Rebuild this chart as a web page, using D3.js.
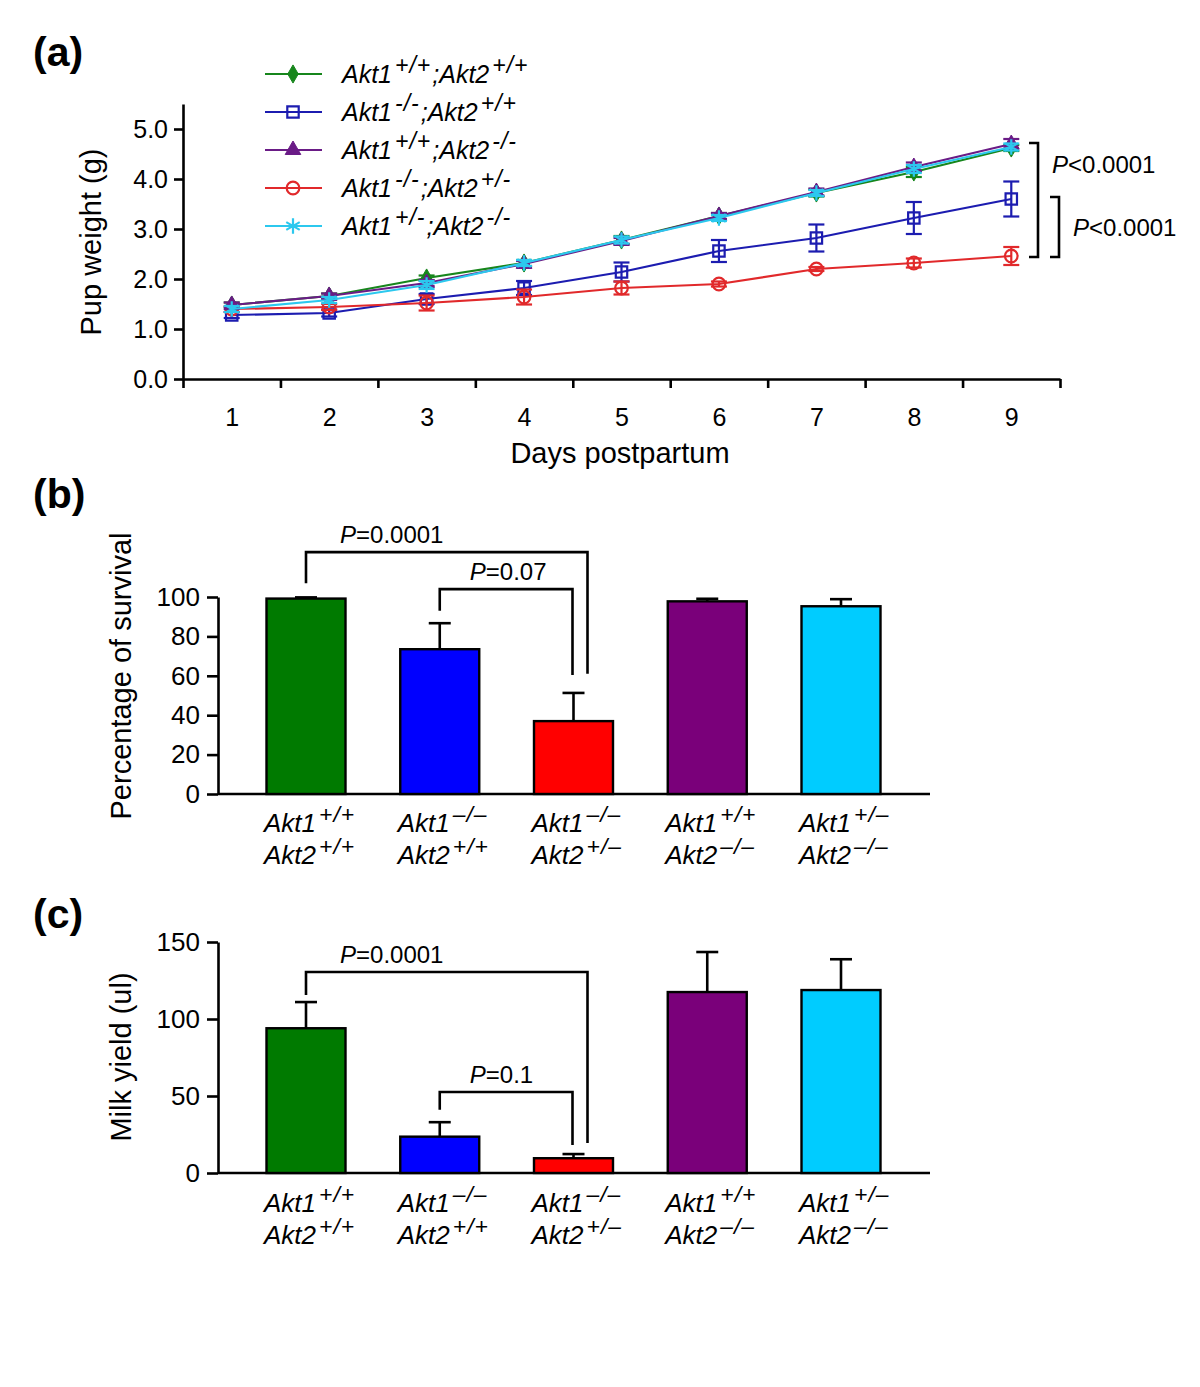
<!DOCTYPE html>
<html><head><meta charset="utf-8">
<script src="https://cdn.jsdelivr.net/npm/d3@7/dist/d3.min.js"></script>
<style>
html,body{margin:0;padding:0;background:#fff;}
text{font-family:"Liberation Sans",Arial,sans-serif;fill:#000;}
</style></head>
<body>
<svg id="chart" width="1200" height="1387"></svg>
<script>
// ---------- DATA ----------
const days = [1, 2, 3, 4, 5, 6, 7, 8, 9];
const yTicksA = [0, 1, 2, 3, 4, 5];
const seriesNames = ["Akt1{+/+};Akt2{+/+}", "Akt1{-/-};Akt2{+/+}", "Akt1{+/+};Akt2{-/-}", "Akt1{-/-};Akt2{+/-}", "Akt1{+/-};Akt2{-/-}"];
const wtWeight      = [1.48, 1.66, 2.02, 2.32, 2.78, 3.26, 3.72, 4.14, 4.62];
const wtErr         = [0.05, 0.05, 0.05, 0.06, 0.08, 0.06, 0.07, 0.10, 0.06];
const akt1KoWeight  = [1.28, 1.32, 1.60, 1.82, 2.14, 2.56, 2.82, 3.22, 3.60];
const akt1KoErr     = [0.06, 0.07, 0.10, 0.14, 0.19, 0.22, 0.27, 0.32, 0.35];
const akt2KoWeight  = [1.48, 1.66, 1.92, 2.30, 2.76, 3.26, 3.74, 4.24, 4.70];
const akt2KoErr     = [0.05, 0.05, 0.06, 0.06, 0.06, 0.06, 0.07, 0.09, 0.10];
const dkHetWeight   = [1.40, 1.44, 1.52, 1.64, 1.82, 1.90, 2.20, 2.32, 2.46];
const dkHetErr      = [0.06, 0.06, 0.15, 0.15, 0.13, 0.05, 0.04, 0.09, 0.18];
const hetKoWeight   = [1.40, 1.58, 1.88, 2.32, 2.78, 3.22, 3.72, 4.20, 4.64];
const hetKoErr      = [0.06, 0.06, 0.08, 0.06, 0.07, 0.06, 0.06, 0.08, 0.07];
const pBracketsA = [{top: 4.72, bottom: 2.44, label: "<0.0001"}, {top: 3.64, bottom: 2.44, label: "<0.0001"}];

const categories = ["Akt1{+/+}|Akt2{+/+}", "Akt1{–/–}|Akt2{+/+}", "Akt1{–/–}|Akt2{+/–}", "Akt1{+/+}|Akt2{–/–}", "Akt1{+/–}|Akt2{–/–}"];
const survival    = [99.2, 73.5, 37.0, 97.8, 95.3];
const survivalErr = [0.6, 13.2, 14.3, 1.3, 3.6];
const yTicksB = [0, 20, 40, 60, 80, 100];
const milkYield    = [94, 23.6, 9.6, 117.5, 118.8];
const milkYieldErr = [17, 9.4, 2.7, 26, 20];
const yTicksC = [0, 50, 100, 150];
const pBracketsB = [
  {from: 0, to: 2, top: 122.8, leftEnd: 107, rightEnd: 61, label: "=0.0001"},
  {from: 1, to: 2, top: 104, leftEnd: 93, rightEnd: 60.4, label: "=0.07"}];
const pBracketsC = [
  {from: 0, to: 2, top: 130.5, leftEnd: 115.6, rightEnd: 19.5, label: "=0.0001"},
  {from: 1, to: 2, top: 52.6, leftEnd: 41, rightEnd: 18.2, label: "=0.1"}];

// ---------- STYLE ----------
const lineColors = ["#17861c", "#1c1cb0", "#6a1b86", "#e1292b", "#2cc8ee"];
const barColors  = ["#007a00", "#0000ff", "#ff0000", "#7a007a", "#00ccff"];
const symbols = [
  {type: d3.symbolDiamond, size: 95, fill: true},
  {type: d3.symbolSquare, size: 130, fill: false},
  {type: d3.symbolTriangle, size: 105, fill: true},
  {type: d3.symbolCircle, size: 125, fill: false},
  {type: d3.symbolAsterisk, size: 170, fill: false}];

const svg = d3.select("#chart");

function rich(textSel, str, fs, supScale) {
  const re = /([^{]+)|\{([^}]*)\}/g;
  let m, prevSup = false;
  const shift = fs * 0.4;
  while ((m = re.exec(str)) !== null) {
    if (m[1] !== undefined) {
      const t = textSel.append("tspan").text(m[1]);
      if (prevSup) t.attr("dy", shift).attr("dx", 1);
      prevSup = false;
    } else {
      textSel.append("tspan").attr("font-size", fs * supScale).attr("letter-spacing", 1)
        .attr("dx", 3).attr("dy", -shift).text(m[2]);
      prevSup = true;
    }
  }
}

function styleAxis(g) {
  g.selectAll("path.domain").attr("stroke", "#000").attr("stroke-width", 2.6);
  g.selectAll(".tick line").attr("stroke", "#000").attr("stroke-width", 2.6);
  g.selectAll(".tick text").attr("fill", "#000").style("font-family", "Liberation Sans, Arial, sans-serif");
}

// ---------- PANEL LABELS ----------
[["(a)", 33, 66], ["(b)", 33, 508], ["(c)", 33, 928]].forEach(([t, x, y]) =>
  svg.append("text").attr("x", x).attr("y", y).attr("font-size", 41).attr("font-weight", "bold").text(t));

// ---------- PANEL A ----------
const xa = d3.scaleLinear().domain([0.5, 9.5]).range([183, 1060]);
const ya = d3.scaleLinear().domain([0, 5.5]).range([379, 104]);
const gA = svg.append("g");

const yAxA = gA.append("g").attr("transform", `translate(${xa(0.5)},0)`)
  .call(d3.axisLeft(ya).tickValues(yTicksA).tickFormat(d3.format(".1f")).tickSize(9).tickSizeOuter(0).tickPadding(6));
yAxA.selectAll(".tick text").attr("font-size", 25);
styleAxis(yAxA);
const xAxA = gA.append("g").attr("transform", `translate(0,${ya(0)})`)
  .call(d3.axisBottom(xa).tickValues(d3.range(0.5, 10, 1)).tickFormat("").tickSize(9).tickSizeOuter(0));
styleAxis(xAxA);
const xLabA = gA.append("g").attr("transform", `translate(0,${ya(0)})`)
  .call(d3.axisBottom(xa).tickValues(days).tickSize(0).tickPadding(29));
xLabA.select("path.domain").remove();
xLabA.selectAll(".tick text").attr("font-size", 25);
styleAxis(xLabA);

gA.append("text").attr("x", 620).attr("y", 463).attr("text-anchor", "middle").attr("font-size", 29).text("Days postpartum");
gA.append("text").attr("transform", "translate(101,242) rotate(-90)").attr("text-anchor", "middle").attr("font-size", 29).text("Pup weight (g)");

const seriesVals = [wtWeight, akt1KoWeight, akt2KoWeight, dkHetWeight, hetKoWeight];
const seriesErrs = [wtErr, akt1KoErr, akt2KoErr, dkHetErr, hetKoErr];
const order = [1, 3, 0, 2, 4];
const line = d3.line().x((d, i) => xa(days[i])).y(d => ya(d));
order.forEach(s => {
  const g = gA.append("g");
  const c = lineColors[s];
  g.append("path").datum(seriesVals[s]).attr("d", line).attr("fill", "none").attr("stroke", c).attr("stroke-width", 2.2);
  const eb = g.selectAll("g.eb").data(seriesVals[s]).join("g");
  eb.append("line").attr("x1", (d, i) => xa(days[i])).attr("x2", (d, i) => xa(days[i]))
    .attr("y1", (d, i) => ya(d - seriesErrs[s][i])).attr("y2", (d, i) => ya(d + seriesErrs[s][i]))
    .attr("stroke", c).attr("stroke-width", 2.2);
  [-1, 1].forEach(sg => eb.append("line").attr("x1", (d, i) => xa(days[i]) - 8).attr("x2", (d, i) => xa(days[i]) + 8)
    .attr("y1", (d, i) => ya(d + sg * seriesErrs[s][i])).attr("y2", (d, i) => ya(d + sg * seriesErrs[s][i]))
    .attr("stroke", c).attr("stroke-width", 2.2));
  const sym = symbols[s];
  g.selectAll("path.m").data(seriesVals[s]).join("path")
    .attr("d", d3.symbol().type(sym.type).size(sym.size))
    .attr("transform", (d, i) => `translate(${xa(days[i])},${ya(d)})`)
    .attr("fill", sym.fill ? c : "none").attr("stroke", c).attr("stroke-width", sym.fill ? 1 : 2.2);
});

// legend
seriesNames.forEach((n, s) => {
  const y = 74 + s * 38;
  const c = lineColors[s];
  gA.append("line").attr("x1", 265).attr("x2", 322).attr("y1", y).attr("y2", y).attr("stroke", c).attr("stroke-width", 2.2);
  const sym = symbols[s];
  gA.append("path").attr("d", d3.symbol().type(sym.type).size(sym.size)).attr("transform", `translate(293,${y})`)
    .attr("fill", sym.fill ? c : "none").attr("stroke", c).attr("stroke-width", sym.fill ? 1 : 2.2);
  const t = gA.append("text").attr("x", 342).attr("y", y + 9).attr("font-size", 25).attr("font-style", "italic");
  rich(t, n, 25, 0.92);
});

// p brackets panel a
pBracketsA.forEach((b, k) => {
  const xv = xa(9.5) - 22 + k * 21;
  gA.append("path").attr("d", `M${xv - 9},${ya(b.top)}H${xv}V${ya(b.bottom)}H${xv - 9}`)
    .attr("fill", "none").attr("stroke", "#000").attr("stroke-width", 2.6);
  const t = gA.append("text").attr("x", xv + 14).attr("y", k === 0 ? 173 : 236).attr("font-size", 24);
  t.append("tspan").attr("font-style", "italic").text("P");
  t.append("tspan").text(b.label);
});

// ---------- BAR PANELS ----------
function barPanel(vals, errs, yDomain, yRange, ticks, title, titleY, brackets, labelY) {
  const g = svg.append("g");
  const xb = d3.scalePoint().domain(d3.range(categories.length)).range([306, 841]);
  const y = d3.scaleLinear().domain(yDomain).range(yRange);
  const bw = 79;
  g.append("line").attr("x1", 218).attr("x2", 930).attr("y1", y(0)).attr("y2", y(0)).attr("stroke", "#000").attr("stroke-width", 2.6);
  const ax = g.append("g").attr("transform", "translate(218,0)")
    .call(d3.axisLeft(y).tickValues(ticks).tickSize(11).tickSizeOuter(0).tickPadding(7));
  ax.selectAll(".tick text").attr("font-size", 26);
  styleAxis(ax);
  g.append("text").attr("transform", `translate(131,${titleY}) rotate(-90)`).attr("text-anchor", "middle").attr("font-size", 29).text(title);
  g.selectAll("line.err").data(vals).join("line")
    .attr("x1", (d, i) => xb(i)).attr("x2", (d, i) => xb(i))
    .attr("y1", d => y(d)).attr("y2", (d, i) => y(d + errs[i])).attr("stroke", "#000").attr("stroke-width", 2.6);
  g.selectAll("line.cap").data(vals).join("line")
    .attr("x1", (d, i) => xb(i) - 11).attr("x2", (d, i) => xb(i) + 11)
    .attr("y1", (d, i) => y(d + errs[i])).attr("y2", (d, i) => y(d + errs[i])).attr("stroke", "#000").attr("stroke-width", 2.6);
  g.selectAll("rect").data(vals).join("rect")
    .attr("x", (d, i) => xb(i) - bw / 2).attr("width", bw)
    .attr("y", d => y(d)).attr("height", d => y(0) - y(d))
    .attr("fill", (d, i) => barColors[i]).attr("stroke", "#000").attr("stroke-width", 2.4);
  categories.forEach((c, i) => {
    c.split("|").forEach((ln, j) => {
      const t = g.append("text").attr("x", xb(i) - 42).attr("y", labelY + j * 32).attr("font-size", 26).attr("font-style", "italic");
      rich(t, ln, 26, 0.88);
    });
  });
  brackets.forEach((b, k) => {
    const xl = xb(b.from), xr = xb(b.to) + (k === 0 ? 14 : -1);
    g.append("path").attr("d", `M${xl},${y(b.leftEnd)}V${y(b.top)}H${xr}V${y(b.rightEnd)}`)
      .attr("fill", "none").attr("stroke", "#000").attr("stroke-width", 2.6);
    const t = g.append("text").attr("x", xl + (k === 0 ? 34 : 30)).attr("y", y(b.top) - 9).attr("font-size", 24);
    t.append("tspan").attr("font-style", "italic").text("P");
    t.append("tspan").text(b.label);
  });
}

barPanel(survival, survivalErr, [0, 100], [794, 597], yTicksB, "Percentage of survival", 676, pBracketsB, 832);
barPanel(milkYield, milkYieldErr, [0, 150], [1173, 942], yTicksC, "Milk yield (ul)", 1057, pBracketsC, 1212);
</script>
</body></html>
